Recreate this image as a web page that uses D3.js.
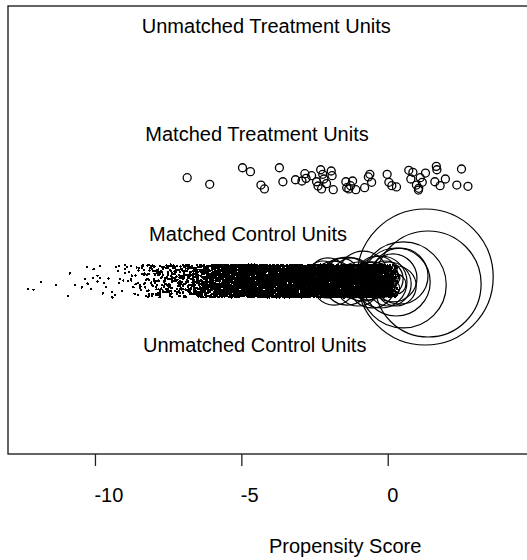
<!DOCTYPE html>
<html>
<head>
<meta charset="utf-8">
<script src="https://cdn.jsdelivr.net/npm/d3@7"></script>
<style>
  html, body { margin: 0; background: #fff; }
  svg { display: block; }
</style>
</head>
<body>
<svg id="chart" width="527" height="560"></svg>
<script>
const W = 527, H = 560;
const FONT = '"Liberation Sans", Arial, Helvetica, sans-serif';

// axis
const X_TICKS = [-10, -5, 0];
const X_TITLE = 'Propensity Score';

// group labels (left edge in score units, baseline in y units)
const GROUP_LABELS = ['Unmatched Treatment Units', 'Matched Treatment Units', 'Matched Control Units', 'Unmatched Control Units'];
const LABEL_X = [-8.40, -8.28, -8.15, -8.36];
const LABEL_Y = [3.95, 2.93, 1.985, 0.942];

// matched treatment units (weight 1)
const TREAT_SCORE = [-6.85, -6.08, -4.96, -4.69, -4.33, -4.21, -3.70, -3.58, -3.15, -2.93, -2.83, -2.79, -2.60, -2.43, -2.38,
  -2.29, -2.26, -2.22, -2.18, -2.09, -1.93, -1.90, -1.86, -1.43, -1.40, -1.33, -1.27, -1.20, -1.09, -0.79, -0.66, -0.61,
  -0.55, -0.02, 0.04, 0.14, 0.30, 0.72, 0.79, 0.86, 0.98, 1.05, 1.06, 1.11, 1.18, 1.29, 1.61, 1.66, 1.68, 1.79, 1.97,
  2.36, 2.52, 2.74];
const TREAT_Y = [2.583, 2.521, 2.677, 2.640, 2.514, 2.477, 2.677, 2.545, 2.564, 2.552, 2.621, 2.577, 2.602, 2.545, 2.505,
  2.658, 2.477, 2.615, 2.571, 2.527, 2.646, 2.602, 2.470, 2.545, 2.489, 2.477, 2.508, 2.552, 2.470, 2.489, 2.590, 2.615,
  2.540, 2.615, 2.540, 2.508, 2.496, 2.653, 2.571, 2.634, 2.514, 2.467, 2.483, 2.583, 2.540, 2.627, 2.545, 2.690, 2.658,
  2.508, 2.571, 2.514, 2.665, 2.502];

// matched control units with small weights: counts per 0.1 score bin from -12.4
const CTRL_BIN_START = -12.4, CTRL_BIN_W = 0.1;
const CTRL_COUNTS = [
  0, 1, 0, 1, 0, 1, 0, 0, 0, 0, 1, 0, 0, 0, 1, 1, 0, 1, 0, 1,
  1, 2, 1, 2, 2, 2,
  1, 2, 1, 2, 2, 2, 3, 2, 3, 3, 4, 4, 5, 5,
  8, 9, 10, 11, 12, 13, 14, 15, 16, 17, 18, 19, 20, 22, 24, 26, 28, 30, 32, 34,
  40, 44, 48, 52, 56, 60, 64, 68, 72, 76, 80, 84, 88, 92, 95, 98, 100, 100, 100,
  100, 102, 99, 101, 103, 100, 98, 102, 104, 101, 99, 103, 100, 102, 105, 101, 99, 104, 102, 100,
  103, 101, 105, 102, 99, 104, 100, 103, 101, 106, 102, 100, 104, 103, 101, 105, 102, 100, 104, 99,
  103, 101, 98, 100, 96,
  80, 55, 28, 10
];
const CTRL_SMALL_W = 0.3;

// matched control units with larger weights
const CW_SCORE = [1.28, 1.38, 0.53, 0.29, 0.42,
  -2.04, -1.83, -1.59, -1.39, -1.22, -1.01, -0.84, -0.67, -0.53, -0.36, -0.23, -0.09, 0.05, 0.18, 0.29, -2.38, -2.21, -2.65,
  -2.95, -2.80, -2.70, -2.55, -2.40, -2.30, -2.15, -2.05, -1.90, -1.80, -1.65, -1.55, -1.40, -1.30, -1.20, -1.10,
  -0.95, -0.85, -0.75, -0.65, -0.55, -0.45, -0.35, -0.25, -0.15, -0.05, 0.05, 0.12, 0.20, 0.28, -1.00, -0.60, -0.30,
  -1.60, -2.10];
const CW_Y = [1.648, 1.582, 1.573, 1.601, 1.657,
  1.639, 1.591, 1.657, 1.610, 1.639, 1.582, 1.657, 1.610, 1.573, 1.648, 1.601, 1.629, 1.582, 1.639, 1.563, 1.620, 1.648, 1.610,
  1.62, 1.56, 1.67, 1.59, 1.55, 1.66, 1.60, 1.53, 1.68, 1.58, 1.63, 1.55, 1.61, 1.69, 1.56, 1.64,
  1.58, 1.67, 1.54, 1.62, 1.59, 1.68, 1.55, 1.63, 1.57, 1.66, 1.60, 1.54, 1.64, 1.58, 1.61, 1.65, 1.60,
  1.61, 1.57];
const CW_WEIGHT = [17, 13.25, 10.75, 8.5, 7,
  5, 5.5, 4.5, 6, 5, 5.5, 6.25, 4.75, 5.75, 5.25, 6.5, 4.5, 5.5, 6, 5, 3.5, 4, 2.5,
  1.2, 1.5, 1.1, 1.8, 1.3, 1.6, 2.0, 1.2, 1.4, 2.2, 1.5, 1.9, 1.3, 1.7, 2.1, 1.4,
  1.8, 1.2, 2.0, 1.6, 2.3, 1.5, 1.9, 2.2, 1.7, 2.4, 1.8, 2.1, 1.6, 2.5, 2.6, 2.8, 3.0,
  2.5, 2.4];

// ---- layout ----
const box = { left: 8, top: 6, right: 530, bottom: 454 };
const CTRL_LEVEL = 1.61, CTRL_JITTER = 0.155;

const x = d3.scaleLinear().domain([-12.97, 4.86]).range([box.left, box.right]);
const y = d3.scaleLinear().domain([0, 4.2]).range([452, 6]);
const r = d3.scaleLinear().domain([0, 1]).range([0, 4]);

// fixed jitter (index hash, same picture on every run)
function jit(n) {
  let h = Math.imul(n ^ 0x9e3779b9, 0x85ebca6b);
  h ^= h >>> 13;
  h = Math.imul(h, 0xc2b2ae35);
  h ^= h >>> 16;
  return (h >>> 0) / 4294967296;
}

const svg = d3.select('#chart');
svg.append('rect').attr('width', W).attr('height', H).attr('fill', '#fff');

svg.append('clipPath').attr('id', 'plot-clip')
  .append('rect')
  .attr('x', box.left).attr('y', box.top)
  .attr('width', box.right - box.left).attr('height', box.bottom - box.top);

const plotG = svg.append('g').attr('clip-path', 'url(#plot-clip)');

// small-weight controls, spread inside their bin
const ctrlDots = [];
let k = 0;
CTRL_COUNTS.forEach((n, i) => {
  for (let j = 0; j < n; j++, k++) {
    ctrlDots.push({
      s: CTRL_BIN_START + CTRL_BIN_W * (i + jit(2 * k)),
      v: CTRL_LEVEL + CTRL_JITTER * (2 * jit(2 * k + 1) - 1)
    });
  }
});

plotG.append('g')
  .attr('shape-rendering', 'crispEdges')
  .selectAll('circle')
  .data(ctrlDots)
  .join('circle')
  .attr('cx', d => x(d.s))
  .attr('cy', d => y(d.v))
  .attr('r', r(CTRL_SMALL_W))
  .attr('fill', '#000');

// weighted controls
const ctrlBig = CW_SCORE.map((s, i) => ({ s, v: CW_Y[i], w: CW_WEIGHT[i] }))
  .sort((a, b) => b.w - a.w);
plotG.append('g').selectAll('circle')
  .data(ctrlBig)
  .join('circle')
  .attr('cx', d => x(d.s))
  .attr('cy', d => y(d.v))
  .attr('r', d => r(d.w))
  .attr('fill', 'none')
  .attr('stroke', '#000')
  .attr('stroke-width', 1.2);

// treated
plotG.append('g').selectAll('circle')
  .data(TREAT_SCORE.map((s, i) => ({ s, v: TREAT_Y[i] })))
  .join('circle')
  .attr('cx', d => x(d.s))
  .attr('cy', d => y(d.v))
  .attr('r', r(1))
  .attr('fill', 'none')
  .attr('stroke', '#000')
  .attr('stroke-width', 1.3);

// group labels
svg.append('g').selectAll('text')
  .data(GROUP_LABELS)
  .join('text')
  .attr('x', (d, i) => x(LABEL_X[i]))
  .attr('y', (d, i) => y(LABEL_Y[i]))
  .attr('font-family', FONT)
  .attr('font-size', 20)
  .attr('fill', '#000')
  .text(d => d);

// box
svg.append('rect')
  .attr('x', box.left).attr('y', box.top)
  .attr('width', box.right - box.left).attr('height', box.bottom - box.top)
  .attr('fill', 'none')
  .attr('stroke', '#222')
  .attr('stroke-width', 1.4);

// x axis
const axisG = svg.append('g')
  .attr('transform', `translate(0,${box.bottom})`)
  .call(d3.axisBottom(x).tickValues(X_TICKS).tickSize(12).tickFormat(d => String(d)));
axisG.select('.domain').remove();
axisG.selectAll('.tick line').attr('stroke', '#222').attr('stroke-width', 1.3);
axisG.selectAll('.tick text')
  .attr('text-anchor', 'start')
  .attr('x', -1)
  .attr('y', 48)
  .attr('dy', null)
  .attr('fill', '#000')
  .attr('font-family', FONT)
  .attr('font-size', 20);

svg.append('text')
  .attr('x', (box.left + box.right) / 2)
  .attr('y', 553)
  .attr('font-family', FONT)
  .attr('font-size', 20)
  .attr('fill', '#000')
  .text(X_TITLE);
</script>
</body>
</html>
